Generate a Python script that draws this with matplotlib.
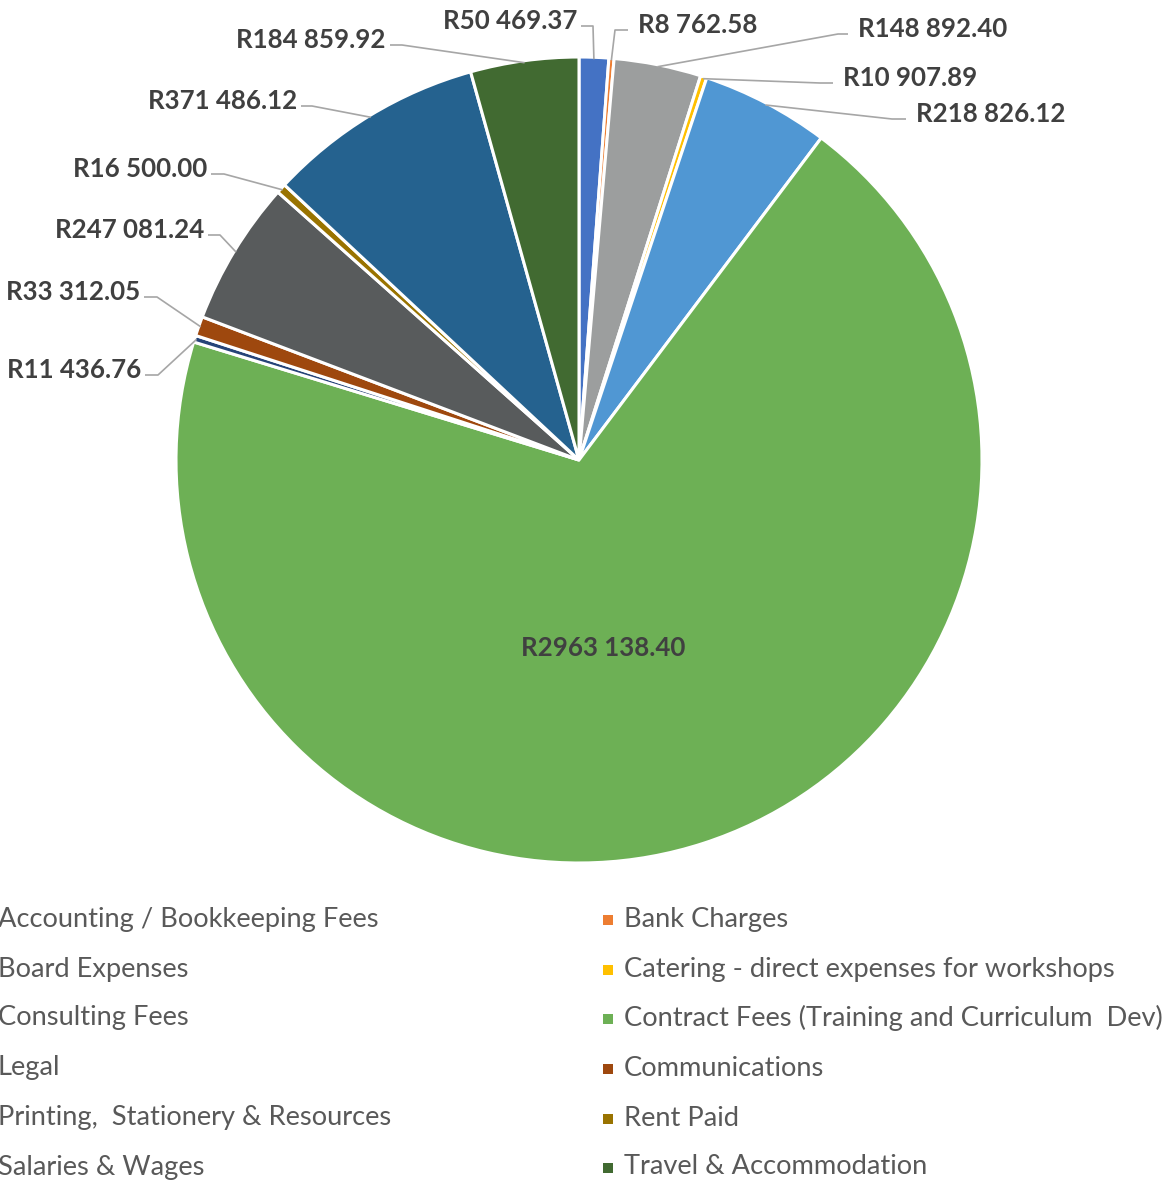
import numpy as np
import matplotlib.pyplot as plt
from matplotlib.patches import Rectangle

# ----- data -----
categories = [
    "Accounting / Bookkeeping Fees", "Bank Charges",
    "Board Expenses", "Catering - direct expenses for workshops",
    "Consulting Fees", "Contract Fees (Training and Curriculum  Dev)",
    "Legal", "Communications",
    "Printing,  Stationery & Resources", "Rent Paid",
    "Salaries & Wages", "Travel & Accommodation",
]
amounts = [50469.37, 8762.58, 148892.40, 10907.89, 218826.12, 2963138.40,
           11436.76, 33312.05, 247081.24, 16500.00, 371486.12, 184859.92]
colors = ["#4472C4", "#ED7D31", "#9C9E9E", "#FFC000", "#5097D3", "#6DB055",
          "#264478", "#9E480E", "#585B5C", "#997300", "#25628F", "#416A31"]


def rand(v):
    whole = int(v)
    cents = int(round((v - whole) * 100))
    return "R%d %03d.%02d" % (whole // 1000, whole % 1000, cents)


# ----- layout (pixels, measured from top-left) -----
W, H = 1174, 1180
cx, cy, R = 579, 460, 403
# (ha, text edge x, text centre y, elbow x)  -- None for the inside label
label_pos = [
    ("right", 577, 21, 593), ("left", 638, 25, 615),
    ("left", 858, 29, 838), ("left", 843, 78, 820),
    ("left", 916, 114, 892), None,
    ("right", 141, 370, 158), ("right", 140, 292, 157),
    ("right", 204, 230, 220), ("right", 207, 169, 224),
    ("right", 297, 101, 312), ("right", 386, 40, 402),
]
inside_pos = (603, 648)

plt.rcParams['font.family'] = ['Lato', 'DejaVu Sans']

fig = plt.figure(figsize=(W / 100, H / 100), dpi=100)
ax = fig.add_axes([0, 0, 1, 1])
wedges, _ = ax.pie(amounts, colors=colors, startangle=90, counterclock=False,
                   radius=R, center=(cx, H - cy),
                   wedgeprops=dict(edgecolor="white", linewidth=2.2))
ax.set_xlim(0, W)
ax.set_ylim(0, H)
ax.set_aspect("equal")
ax.axis("off")

# ----- data labels with leader lines -----
lab_kw = dict(fontsize=18.6, fontweight="bold", color="#404040", va="center")
for w, v, pos in zip(wedges, amounts, label_pos):
    if pos is None:
        ax.text(inside_pos[0], H - inside_pos[1], rand(v), ha="center", **lab_kw)
        continue
    ha, tx, ty, ex = pos
    mid = np.deg2rad((w.theta1 + w.theta2) / 2)
    axp = cx + (R - 2) * np.cos(mid)
    ayp = H - cy + (R - 2) * np.sin(mid)
    ly = H - (ty + 5)
    end = tx + 4 if ha == "right" else tx - 10
    ax.plot([axp, ex, end], [ayp, ly, ly], color="#A6A6A6", lw=1.2,
            solid_capstyle="butt", zorder=1)
    ax.text(tx, H - ty, rand(v), ha=ha, **lab_kw)

# ----- legend (two columns, left one runs off the canvas) -----
row_y = [919, 969, 1018, 1068, 1118, 1167]
col_text_x = [-2, 624]
col_box_x = [-23, 603]
for i, (name, c) in enumerate(zip(categories, colors)):
    row, col = divmod(i, 2)
    y = row_y[row]
    fig.patches.append(Rectangle(((col_box_x[col]) / W, (H - y - 6) / H), 10 / W, 10 / H,
                                 transform=fig.transFigure, facecolor=c,
                                 edgecolor="none"))
    fig.text(col_text_x[col] / W, (H - y) / H, name, fontsize=19.6,
             color="#595959", va="center", ha="left")

fig.savefig("out.png", dpi=100)
